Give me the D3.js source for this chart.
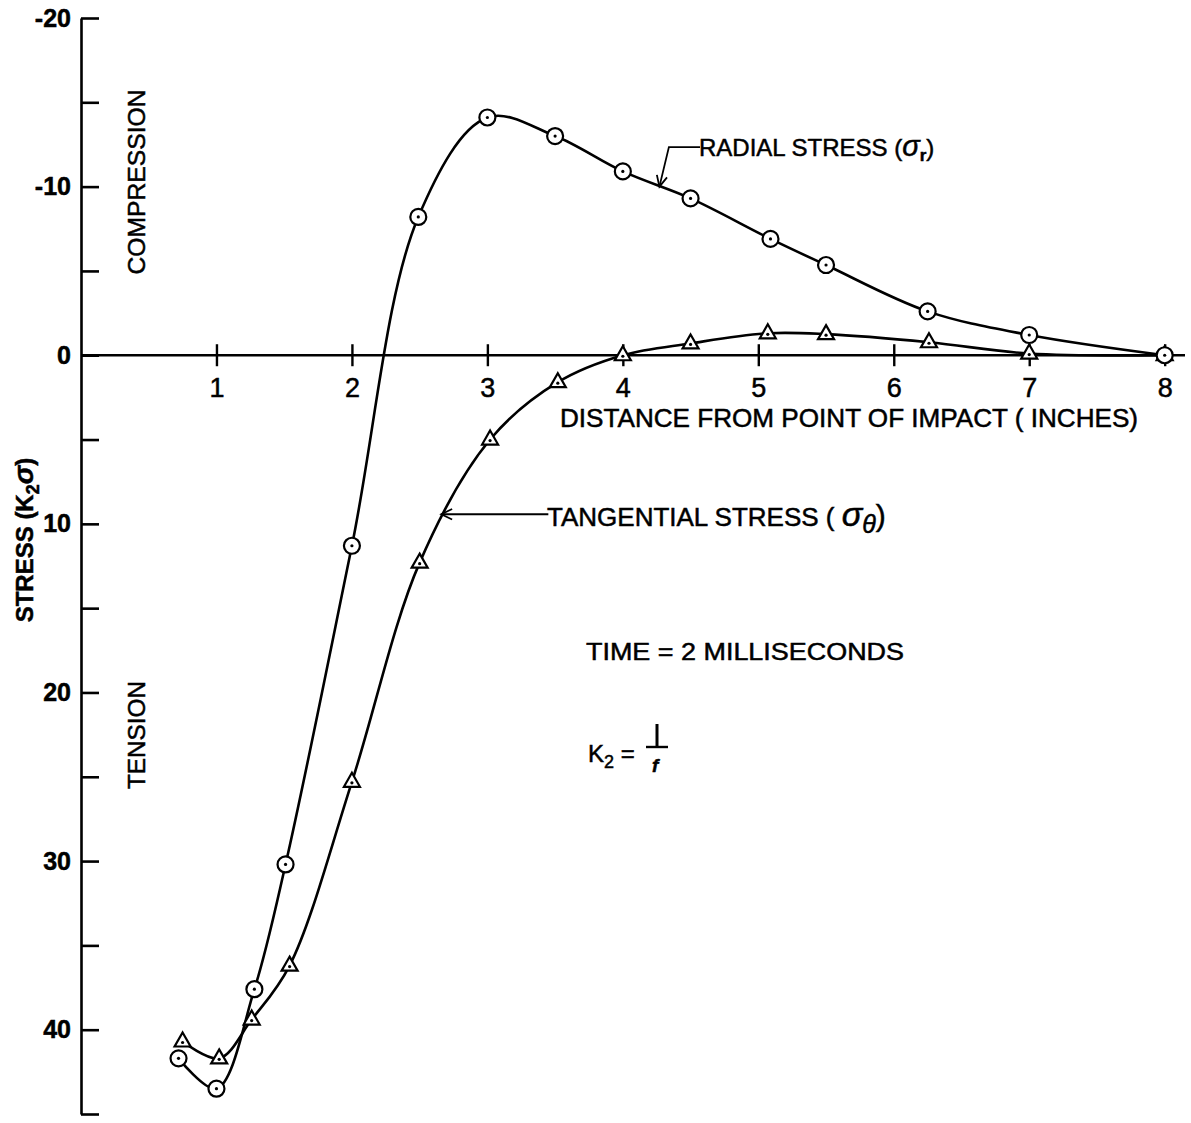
<!DOCTYPE html>
<html>
<head>
<meta charset="utf-8">
<script src="https://cdn.jsdelivr.net/npm/d3@7"></script>
<style>
  body { margin: 0; background: #fff; }
  text { font-family: "Liberation Sans", Arial, sans-serif; fill: #000; stroke: #000; stroke-width: 0.5px; }
</style>
</head>
<body>
<svg id="chart"></svg>
<script>
// Stress vs distance from point of impact, time = 2 ms

const radialX = [0.72, 1.0, 1.28, 1.51, 2.0, 2.49, 3.0, 3.5, 4.0, 4.5, 5.09, 5.5, 6.25, 7.0, 8.0];
const radialY = [41.7, 43.5, 37.6, 30.2, 11.3, -8.2, -14.1, -13.0, -10.9, -9.3, -6.9, -5.35, -2.6, -1.2, 0];
const tangX = [0.75, 1.02, 1.26, 1.54, 2.0, 2.5, 3.02, 3.52, 4.0, 4.5, 5.07, 5.5, 6.26, 7.0, 8.0];
const tangY = [40.7, 41.7, 39.4, 36.2, 25.3, 12.3, 5.0, 1.6, 0.0, -0.7, -1.3, -1.25, -0.77, -0.1, 0];

const yTicks = [-20, -15, -10, -5, 0, 5, 10, 15, 20, 25, 30, 35, 40, 45];
const yTickLabels = ['-20', '', '-10', '', '0', '', '10', '', '20', '', '30', '', '40', ''];
const xTicks = [1, 2, 3, 4, 5, 6, 7, 8];
const xTickLabels = ['1', '2', '3', '4', '5', '6', '7', '8'];

const width = 1191;
const height = 1123;

const svg = d3.select('#chart')
  .attr('width', width)
  .attr('height', height);

const x = d3.scaleLinear().domain([0, 8.15]).range([81, 1185]);
const y = d3.scaleLinear().domain([-20, 45]).range([18, 1114]);

// Y axis, ticks pointing inward
const yAxis = d3.axisLeft(y)
  .tickValues(yTicks)
  .tickSizeInner(-18)
  .tickSizeOuter(0)
  .tickPadding(10)
  .tickFormat((d, i) => yTickLabels[i]);

const yG = svg.append('g')
  .attr('transform', `translate(${x(0)},0)`)
  .call(yAxis);
yG.select('.domain').attr('stroke-width', 2.6);
yG.selectAll('.tick line').attr('stroke-width', 2.6);
yG.selectAll('.tick text')
  .style('font-size', '25px')
  .style('font-weight', 'bold')
  .attr('fill', '#000');

// X axis along zero, ticks crossing the line
svg.append('line')
  .attr('x1', x(0)).attr('x2', x(8.15))
  .attr('y1', y(0)).attr('y2', y(0))
  .attr('stroke', '#000')
  .attr('stroke-width', 2.4);

const xAxis = d3.axisBottom(x)
  .tickValues(xTicks)
  .tickSizeInner(11)
  .tickSizeOuter(0)
  .tickPadding(12)
  .tickFormat((d, i) => xTickLabels[i]);

const xG = svg.append('g')
  .attr('transform', `translate(0,${y(0)})`)
  .call(xAxis);
xG.select('.domain').remove();
xG.selectAll('.tick line').attr('y1', -11).attr('stroke-width', 2.4);
xG.selectAll('.tick text')
  .style('font-size', '27px')
  .attr('fill', '#000');

// Curves
const line = d3.line()
  .x(d => x(d[0]))
  .y(d => y(d[1]))
  .curve(d3.curveCatmullRom.alpha(0.5));

const radial = radialX.map((v, i) => [v, radialY[i]]);
const tang = tangX.map((v, i) => [v, tangY[i]]);

svg.append('path')
  .attr('d', line(tang))
  .attr('fill', 'none')
  .attr('stroke', '#000')
  .attr('stroke-width', 2.6);

svg.append('path')
  .attr('d', line(radial))
  .attr('fill', 'none')
  .attr('stroke', '#000')
  .attr('stroke-width', 2.6);

// Triangle markers
const triPath = 'M0,-9L8,5L-8,5Z';
svg.selectAll('.tri')
  .data(tang)
  .enter()
  .append('g')
  .attr('class', 'tri')
  .attr('transform', d => `translate(${x(d[0])},${y(d[1])})`)
  .each(function() {
    const g = d3.select(this);
    g.append('path').attr('d', triPath)
      .attr('fill', '#fff').attr('stroke', '#000').attr('stroke-width', 2.2);
    g.append('circle').attr('r', 1.6).attr('cy', 1).attr('fill', '#000');
  });

// Circle markers
svg.selectAll('.circ')
  .data(radial)
  .enter()
  .append('g')
  .attr('class', 'circ')
  .attr('transform', d => `translate(${x(d[0])},${y(d[1])})`)
  .each(function() {
    const g = d3.select(this);
    g.append('circle').attr('r', 8)
      .attr('fill', '#fff').attr('stroke', '#000').attr('stroke-width', 2.2);
    g.append('circle').attr('r', 1.6).attr('fill', '#000');
  });

// Leader lines with open arrowheads
function leader(points) {
  const pts = points.map(p => [x(p[0]), y(p[1])]);
  svg.append('path')
    .attr('d', d3.line()(pts))
    .attr('fill', 'none')
    .attr('stroke', '#000')
    .attr('stroke-width', 1.8);
  const a = pts[pts.length - 2], b = pts[pts.length - 1];
  const ang = Math.atan2(b[1] - a[1], b[0] - a[0]);
  const len = 12, spread = 0.45;
  const p1 = [b[0] - len * Math.cos(ang - spread), b[1] - len * Math.sin(ang - spread)];
  const p2 = [b[0] - len * Math.cos(ang + spread), b[1] - len * Math.sin(ang + spread)];
  svg.append('path')
    .attr('d', d3.line()([p1, b, p2]))
    .attr('fill', 'none')
    .attr('stroke', '#000')
    .attr('stroke-width', 1.8);
}

leader([[4.57, -12.34], [4.34, -12.34], [4.27, -10.0]]);
leader([[3.45, 9.43], [2.66, 9.43]]);

// Labels
function label(tx, ty, size) {
  return svg.append('text')
    .attr('x', tx).attr('y', ty)
    .style('font-size', size + 'px');
}

const rl = label(699, 156, 24);
rl.append('tspan').text('RADIAL  STRESS (');
rl.append('tspan').style('font-style', 'italic').style('font-size', '29px').text('σ');
rl.append('tspan').attr('dy', 5).style('font-size', '17px').style('font-weight', 'bold').text('r');
rl.append('tspan').attr('dy', -5).text(')');

const tl = label(547, 526, 26);
tl.append('tspan').text('TANGENTIAL   STRESS  ( ');
tl.append('tspan').style('font-style', 'italic').style('font-size', '34px').text('σ');
tl.append('tspan').attr('dy', 7).style('font-style', 'italic').style('font-size', '25px').text('θ');
tl.append('tspan').attr('dy', -7).style('font-size', '30px').text(')');

label(560, 427, 25)
  .attr('textLength', 578)
  .attr('lengthAdjust', 'spacingAndGlyphs')
  .text('DISTANCE  FROM POINT  OF  IMPACT  ( INCHES)');

label(586, 660, 24)
  .attr('textLength', 318)
  .attr('lengthAdjust', 'spacingAndGlyphs')
  .text('TIME = 2  MILLISECONDS');

// K2 = 1/f
const kx = 588, ky = 762;
const kl = label(kx, ky, 24);
kl.append('tspan').text('K');
kl.append('tspan').attr('dy', 6).style('font-size', '18px').text('2');
kl.append('tspan').attr('dy', -6).text(' =');
svg.append('line')
  .attr('x1', kx + 69).attr('x2', kx + 69)
  .attr('y1', ky - 38).attr('y2', ky - 16)
  .attr('stroke', '#000').attr('stroke-width', 3);
svg.append('line')
  .attr('x1', kx + 58).attr('x2', kx + 80)
  .attr('y1', ky - 15).attr('y2', ky - 15)
  .attr('stroke', '#000').attr('stroke-width', 2.4);
label(kx + 64, ky + 10, 19).style('font-style', 'italic').style('font-weight', 'bold').text('f');

// Rotated labels
function vlabel(cx, cy, size, txt) {
  return svg.append('text')
    .attr('transform', `translate(${cx},${cy}) rotate(-90)`)
    .attr('text-anchor', 'middle')
    .style('font-size', size + 'px')
    .text(txt);
}

vlabel(145, 182, 23, 'COMPRESSION').attr('textLength', 185).attr('lengthAdjust', 'spacingAndGlyphs');
vlabel(145, 735, 23, 'TENSION').attr('textLength', 108).attr('lengthAdjust', 'spacingAndGlyphs');

const sl = svg.append('text')
  .attr('transform', `translate(33,540) rotate(-90)`)
  .attr('text-anchor', 'middle')
  .style('font-size', '24px')
  .style('font-weight', 'bold');
sl.append('tspan').text('STRESS (K');
sl.append('tspan').attr('dy', 6).style('font-size', '18px').text('2');
sl.append('tspan').attr('dy', -6).style('font-style', 'italic').style('font-size', '28px').text('σ');
sl.append('tspan').text(')');
</script>
</body>
</html>
